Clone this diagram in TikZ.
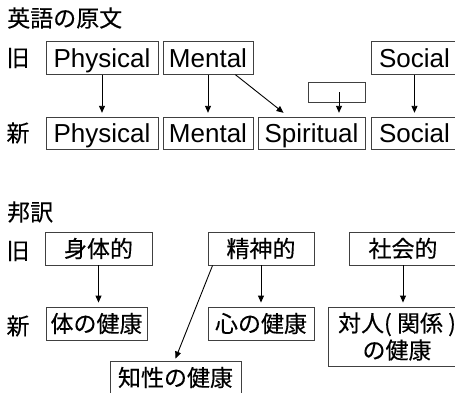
\documentclass[tikz,border=0pt]{standalone}
\usepackage{fontspec}
\setmainfont{Liberation Sans}
\newfontfamily\jpfont[FakeBold=0.3]{Noto Sans CJK JP}
\newfontfamily\latfont{Liberation Sans}
\usetikzlibrary{arrows.meta,calc}
\begin{document}
\begin{tikzpicture}[x=1pt,y=-1pt,
 box/.style={draw=black!75, line width=0.9pt, inner sep=0pt, minimum height=32.5pt, anchor=center},
 en/.style={font=\latfont\fontsize{26}{26}\selectfont, text height=21pt, text depth=2.5pt},
 jp/.style={font=\jpfont\fontsize{23}{27}\selectfont},
 arr/.style={-{Triangle[length=7pt,width=6pt]}, line width=0.9pt, shorten >=4pt},
 arrd/.style={-{Triangle[length=7pt,width=6pt]}, line width=0.9pt},
 lab/.style={font=\jpfont\fontsize{23}{23}\selectfont, inner sep=0pt}]
\useasboundingbox (0,0) rectangle (455,392);
\clip (0,0) rectangle (455,392);
% titles and row labels
\node[lab,anchor=west] (t1) at (7,18) {英語の原文};
\node[lab] (k1) at (18,58) {旧};
\node[lab] (s1) at (18,133) {新};
\node[lab,anchor=west] (t2) at (7,212) {邦訳};
\node[lab] (k2) at (18,251) {旧};
\node[lab] (s2) at (18,326) {新};
% English part
\node[box,en,minimum width=112pt] (po) at (102,58) {Physical};
\node[box,en,minimum width=90pt] (mo) at (208,58) {Mental};
\node[box,en,minimum width=87pt] (so) at (414.5,58) {Social};
\node[box,en,minimum width=112pt] (pn) at (102,133.5) {Physical};
\node[box,en,minimum width=90pt] (mn) at (208,133.5) {Mental};
\node[box,en,minimum width=107pt] (sp) at (311.5,133.5) {Spiritual};
\node[box,en,minimum width=87pt] (sn) at (414.5,133.5) {Social};
\node[box,minimum width=57pt,minimum height=20pt] (sb) at (336.5,92) {};
\draw[arr] (po.south) -- (pn.north);
\draw[arr] (mo.south) -- (mn.north);
\draw[arr] (so.south) -- (so.south |- sn.north);
\draw[arrd] ([xshift=-18pt]mo.south east) -- ([xshift=26pt,yshift=4pt]sp.north west);
\draw[arr] ([xshift=2.5pt]sb.center) -- ([xshift=2.5pt]sb.center |- sp.north);
% Japanese part
\node[box,jp,minimum width=107pt,minimum height=33pt] (bo) at (98.5,248.5) {身体的};
\node[box,jp,minimum width=106pt,minimum height=33pt] (seo) at (261,248.5) {精神的};
\node[box,jp,minimum width=108pt,minimum height=33pt] (sho) at (403,248.5) {社会的};
\node[box,jp,minimum width=101pt,minimum height=33pt] (bn) at (96.5,323.5) {体の健康};
\node[box,jp,minimum width=106pt,minimum height=33pt] (kn) at (261,323.5) {心の健康};
\node[box,jp,minimum width=138pt,minimum height=59pt,align=center] (tn) at (397,336.5) {対人( 関係 )\\の健康};
\node[box,jp,minimum width=131pt,minimum height=33pt] (cn) at (175.5,377.5) {知性の健康};
\draw[arr] (bo.south) -- (bo.south |- bn.north);
\draw[arr] (seo.south) -- (kn.north);
\draw[arr] (sho.south) -- (sho.south |- tn.north);
\draw[arrd] ([xshift=5pt]seo.south west) -- ([yshift=2pt]cn.north);
\end{tikzpicture}
\end{document}
